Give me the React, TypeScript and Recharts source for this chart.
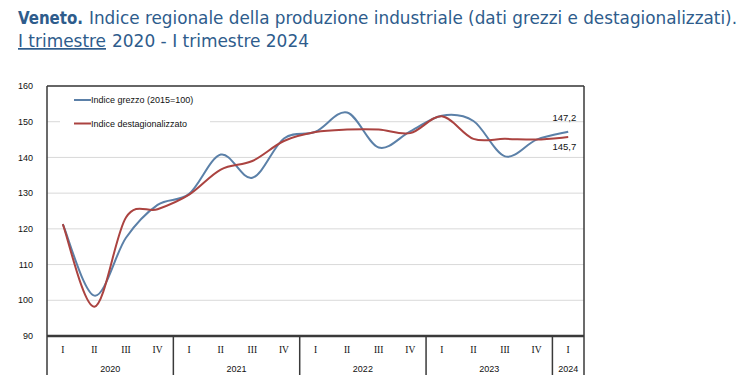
import React from "react";
import { LineChart, Line, XAxis, YAxis, CartesianGrid, ReferenceLine, Legend, LabelList } from "recharts";

const QUARTERS = ["I", "II", "III", "IV", "I", "II", "III", "IV", "I", "II", "III", "IV", "I", "II", "III", "IV", "I"];
const YEARS = ["2020", "2020", "2020", "2020", "2021", "2021", "2021", "2021", "2022", "2022", "2022", "2022", "2023", "2023", "2023", "2023", "2024"];
const GREZZO = [121.3, 101.3, 117.5, 126.7, 129.8, 140.8, 134.3, 145.3, 147.2, 152.6, 142.8, 147.3, 151.7, 150.2, 140.3, 145.0, 147.2];
const DESTAG = [121.3, 98.2, 123.2, 125.5, 129.6, 136.6, 139.0, 144.6, 147.1, 147.8, 147.8, 146.8, 151.5, 145.2, 145.2, 145.0, 145.7];
const Y_TICKS = [90, 100, 110, 120, 130, 140, 150, 160];
const SERIES_NAMES = ["Indice grezzo (2015=100)", "Indice destagionalizzato"];

const BLUE = "#5b80a8";
const RED = "#ab4340";
const TITLE = "#2e5c8c";
const FRAME = "#3a3a3a";

const data = QUARTERS.map((q, i) => ({ key: `${q} ${YEARS[i]}`, q, year: YEARS[i], grezzo: GREZZO[i], destag: DESTAG[i] }));

const PLOT_W = 537;
const PLOT_H = 250;
const BW = PLOT_W / QUARTERS.length;

function cardinal(context: any) {
  let pts: number[][] = [];
  return {
    areaStart() {},
    areaEnd() {},
    lineStart() { pts = []; },
    point(x: number, y: number) { pts.push([+x, +y]); },
    lineEnd() {
      const n = pts.length;
      if (!n) return;
      context.moveTo(pts[0][0], pts[0][1]);
      for (let i = 0; i < n - 1; i++) {
        const p0 = pts[i - 1] || pts[i];
        const p1 = pts[i];
        const p2 = pts[i + 1];
        const p3 = pts[i + 2] || p2;
        context.bezierCurveTo(
          p1[0] + (p2[0] - p0[0]) / 6, p1[1] + (p2[1] - p0[1]) / 6,
          p2[0] - (p3[0] - p1[0]) / 6, p2[1] - (p3[1] - p1[1]) / 6,
          p2[0], p2[1]
        );
      }
    },
  };
}

const smallFont = "'Liberation Sans', Arial, sans-serif";
const titleFont = "'DejaVu Sans Condensed', 'Liberation Sans Narrow', sans-serif";

function XTick(props: any) {
  const { x, y, payload } = props;
  const i: number = typeof payload.index === "number" ? payload.index : data.findIndex((d) => d.key === payload.value);
  const d = data[i];
  const els: React.ReactNode[] = [];
  els.push(
    <text key="q" x={x} y={y + 17} textAnchor="middle" fontFamily="'Liberation Serif', serif" fontSize={9.5} fill="#111">{d.q}</text>
  );
  const sameYear = data.filter((r) => r.year === d.year);
  const firstIdx = data.findIndex((r) => r.year === d.year);
  if (sameYear.length === 4 && i === firstIdx + 1) {
    els.push(<text key="y" x={x + BW / 2} y={y + 36} textAnchor="middle" fontFamily={smallFont} fontSize={9} fill="#111">{d.year}</text>);
  } else if (sameYear.length === 1) {
    els.push(<text key="y" x={x} y={y + 36} textAnchor="middle" fontFamily={smallFont} fontSize={9} fill="#111">{d.year}</text>);
  }
  if (i === firstIdx) {
    els.push(<line key="s" x1={x - BW / 2} x2={x - BW / 2} y1={y} y2={y + 39} stroke={FRAME} strokeWidth={1.5} />);
  }
  if (i === data.length - 1) {
    els.push(<line key="r" x1={x + BW / 2} x2={x + BW / 2} y1={y - PLOT_H} y2={y + 39} stroke={FRAME} strokeWidth={1.5} />);
  }
  return <g>{els}</g>;
}

function LegendContent() {
  const items = [
    { name: SERIES_NAMES[0], color: BLUE },
    { name: SERIES_NAMES[1], color: RED },
  ];
  return (
    <svg width={150} height={44} style={{ display: "block", background: "#fff" }}>
      {items.map((it, k) => (
        <g key={k}>
          <line x1={14} x2={31} y1={10 + k * 23.5} y2={10 + k * 23.5} stroke={it.color} strokeWidth={2} />
          <text x={31} y={13.3 + k * 23.5} fontFamily={smallFont} fontSize={9} fill="#111">{it.name}</text>
        </g>
      ))}
    </svg>
  );
}

function fmt(v: number) {
  return v.toFixed(1).replace(".", ",");
}

function EndLabel(dy: number) {
  return (props: any) => {
    const { x, y, value, index } = props;
    if (index !== data.length - 1) return null;
    return (
      <text x={x + 8} y={y + dy} textAnchor="end" fontFamily={smallFont} fontSize={9.5} fill="#111">{fmt(value)}</text>
    );
  };
}

export default function App() {
  return (
    <div style={{ position: "fixed", left: 0, top: 0, width: 744, height: 378, background: "#fff" }}>
      <LineChart width={744} height={378} data={data} margin={{ top: 86, right: 160, bottom: 0, left: 0 }}>
        <CartesianGrid horizontal vertical={false} stroke="#d9d9d9" />
        <XAxis
          dataKey="key"
          interval={0}
          height={42}
          tickLine={false}
          tickSize={0}
          tickMargin={0}
          padding={{ left: BW / 2, right: BW / 2 }}
          axisLine={{ stroke: FRAME, strokeWidth: 2.5 }}
          tick={<XTick />}
        />
        <YAxis
          width={47}
          domain={[90, 160]}
          ticks={Y_TICKS}
          interval={0}
          tickLine={false}
          tickSize={0}
          tickMargin={14}
          axisLine={{ stroke: FRAME, strokeWidth: 1.5 }}
          tick={{ fontFamily: smallFont, fontSize: 9, fill: "#111" }}
        />
        <ReferenceLine y={160} stroke={FRAME} strokeWidth={1.5} />
        <Legend
          layout="horizontal"
          verticalAlign="middle"
          align="center"
          content={<LegendContent />}
          wrapperStyle={{ position: "absolute", left: 60, top: 90, width: 150, height: 44 }}
        />
        <Line dataKey="grezzo" name={SERIES_NAMES[0]} stroke={BLUE} strokeWidth={2} dot={false} type={cardinal as any} isAnimationActive={false}>
          <LabelList dataKey="grezzo" content={EndLabel(-11)} />
        </Line>
        <Line dataKey="destag" name={SERIES_NAMES[1]} stroke={RED} strokeWidth={2} dot={false} type={cardinal as any} isAnimationActive={false}>
          <LabelList dataKey="destag" content={EndLabel(13)} />
        </Line>
      </LineChart>
      <svg width={744} height={60} style={{ position: "absolute", left: 0, top: 0 }}>
        <text x={18} y={24} fontFamily={titleFont} fontSize={18} fontWeight="bold" fill={TITLE} textLength={65} lengthAdjust="spacingAndGlyphs">Veneto.</text>
        <text x={89} y={24} fontFamily={titleFont} fontSize={17} fill={TITLE} textLength={648} lengthAdjust="spacingAndGlyphs">Indice regionale della produzione industriale (dati grezzi e destagionalizzati).</text>
        <text x={18} y={47} fontFamily={titleFont} fontSize={17} fill={TITLE} textLength={88} lengthAdjust="spacingAndGlyphs" style={{ textDecoration: "underline" }}>I trimestre</text>
        <text x={112} y={47} fontFamily={titleFont} fontSize={17} fill={TITLE} textLength={197} lengthAdjust="spacingAndGlyphs">2020 - I trimestre 2024</text>
      </svg>
    </div>
  );
}
